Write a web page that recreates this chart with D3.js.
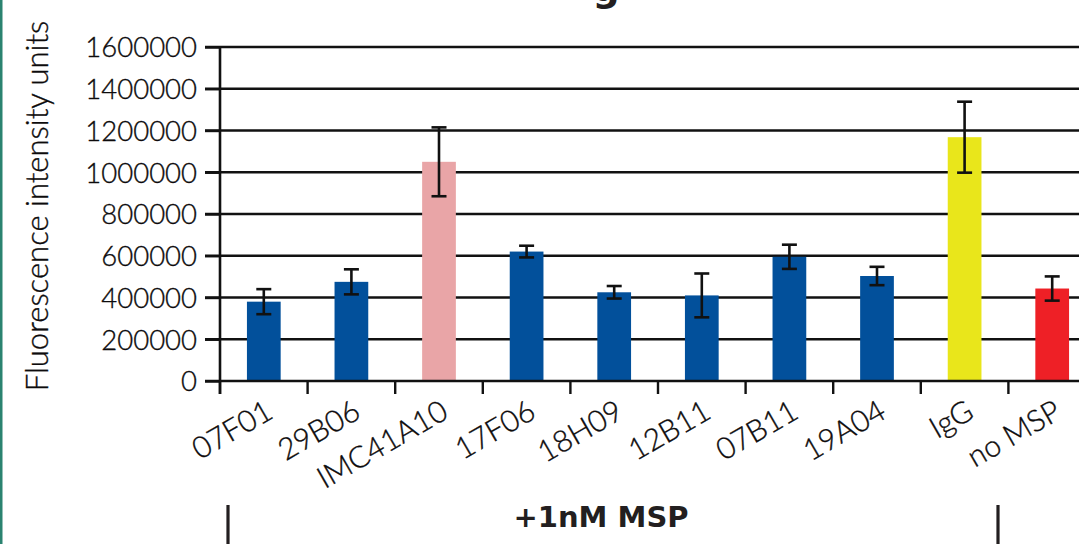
<!DOCTYPE html>
<html>
<head>
<meta charset="utf-8">
<script src="https://cdn.jsdelivr.net/npm/d3@7/dist/d3.min.js"></script>
<style>
  html, body { margin: 0; padding: 0; background: #ffffff; }
  svg { display: block; }
</style>
</head>
<body>
<svg id="chart" width="1079" height="544"></svg>
<script>
// Antibody clones tested with +1nM MSP, plus controls
const categories = ["07F01", "29B06", "IMC41A10", "17F06", "18H09", "12B11", "07B11", "19A04", "IgG", "no MSP"];
// Mean fluorescence intensity per clone
const meanValues = [380000, 475000, 1050000, 620000, 425000, 410000, 595000, 503000, 1168000, 443000];
// Error bar half-length per clone
const errValues = [60000, 60000, 165000, 28000, 30000, 105000, 58000, 44000, 170000, 58000];
// Y-axis tick values
const yTicks = [0, 200000, 400000, 600000, 800000, 1000000, 1200000, 1400000, 1600000];
// Bar fill per clone
const barColors = ["#02509b", "#02509b", "#e9a5a7", "#02509b", "#02509b", "#02509b", "#02509b", "#02509b", "#e9e61b", "#ee2026"];

const svg = d3.select("#chart");
const W = 1079, H = 544;
const ink = "#231f20";
const labelInk = "#0d0b0c";
const font = "Lato, 'Open Sans', sans-serif";
const lightWeight = 300;

const y0 = 381, yTop = 47;
const y = d3.scaleLinear().domain([0, 1600000]).range([y0, yTop]);
const x = d3.scaleBand().domain(categories).range([220, 1096]).paddingInner(0.615).paddingOuter(0.3075);
const color = d3.scaleOrdinal().domain(categories).range(barColors);
const step = x.step();
const boundary = i => x.range()[0] + i * step;

// left page border
svg.append("rect").attr("x", 0).attr("y", 0).attr("width", 2.5).attr("height", H).attr("fill", "#2b8370");

// title remnant at the top edge
svg.append("text")
  .attr("x", 606).attr("y", 1)
  .attr("text-anchor", "middle")
  .attr("font-family", "'DejaVu Sans', sans-serif")
  .attr("font-weight", "bold")
  .attr("font-size", 38)
  .attr("fill", ink)
  .text("g");

// horizontal gridlines (run through the tick marks to the right edge)
svg.append("g").selectAll("line").data(yTicks.slice(1)).join("line")
  .attr("x1", 205).attr("x2", W)
  .attr("y1", d => y(d)).attr("y2", d => y(d))
  .attr("stroke", "#111").attr("stroke-width", 2.4);

// bars
svg.append("g").selectAll("rect").data(categories).join("rect")
  .attr("x", c => x(c))
  .attr("width", x.bandwidth())
  .attr("y", (c, i) => y(meanValues[i]))
  .attr("height", (c, i) => y0 - y(meanValues[i]))
  .attr("fill", c => color(c));

// error bars
const eb = svg.append("g").attr("stroke", "#111").attr("stroke-width", 2.6);
categories.forEach((c, i) => {
  const cx = x(c) + x.bandwidth() / 2;
  const hi = y(meanValues[i] + errValues[i]);
  const lo = y(meanValues[i] - errValues[i]);
  eb.append("line").attr("x1", cx).attr("x2", cx).attr("y1", hi).attr("y2", lo);
  eb.append("line").attr("x1", cx - 7.5).attr("x2", cx + 7.5).attr("y1", hi).attr("y2", hi);
  eb.append("line").attr("x1", cx - 7.5).attr("x2", cx + 7.5).attr("y1", lo).attr("y2", lo);
});

// y axis
const yAxis = svg.append("g").attr("transform", `translate(${x.range()[0]},0)`)
  .call(d3.axisLeft(y).tickValues(yTicks).tickSize(15).tickSizeOuter(0).tickPadding(8).tickFormat(d3.format("d")));
yAxis.select(".domain").remove();
yAxis.selectAll(".tick line").attr("stroke", "#111").attr("stroke-width", 2.4);
yAxis.selectAll(".tick text")
  .attr("font-family", font).attr("font-weight", lightWeight).attr("font-size", 27.5)
  .attr("fill", labelInk).attr("stroke", labelInk).attr("stroke-width", 0.35)
  .attr("dy", "0.36em");
svg.append("line")
  .attr("x1", x.range()[0]).attr("x2", x.range()[0])
  .attr("y1", yTop - 1).attr("y2", y0 + 13)
  .attr("stroke", "#111").attr("stroke-width", 2.6);

// x axis baseline and category separators
svg.append("line").attr("x1", 205).attr("x2", W).attr("y1", y0).attr("y2", y0)
  .attr("stroke", "#111").attr("stroke-width", 2.6);
svg.append("g").selectAll("line").data(d3.range(categories.length + 1)).join("line")
  .attr("x1", i => boundary(i)).attr("x2", i => boundary(i))
  .attr("y1", y0).attr("y2", y0 + 13)
  .attr("stroke", "#111").attr("stroke-width", 2.4);

// rotated category labels
svg.append("g").selectAll("text").data(categories).join("text")
  .attr("transform", c => `translate(${x(c) + x.bandwidth() / 2 + 11},${y0 + 36}) rotate(-30)`)
  .attr("text-anchor", "end")
  .attr("font-family", font).attr("font-weight", lightWeight).attr("font-size", 30)
  .attr("fill", labelInk).attr("stroke", labelInk).attr("stroke-width", 0.35)
  .text(c => c);

// y axis title
svg.append("text")
  .attr("transform", `translate(48,206) rotate(-90)`)
  .attr("text-anchor", "middle")
  .attr("font-family", font).attr("font-weight", lightWeight).attr("font-size", 31)
  .attr("fill", labelInk).attr("stroke", labelInk).attr("stroke-width", 0.35)
  .text("Fluorescence intensity units");

// group bracket and label
[228, 998].forEach(bx => {
  svg.append("line").attr("x1", bx).attr("x2", bx).attr("y1", 505).attr("y2", H)
    .attr("stroke", ink).attr("stroke-width", 3.2);
});
svg.append("text")
  .attr("x", 601).attr("y", 527)
  .attr("text-anchor", "middle")
  .attr("font-family", "'DejaVu Sans', sans-serif")
  .attr("font-weight", "bold")
  .attr("font-size", 29)
  .attr("fill", ink)
  .text("+1nM MSP");
</script>
</body>
</html>
